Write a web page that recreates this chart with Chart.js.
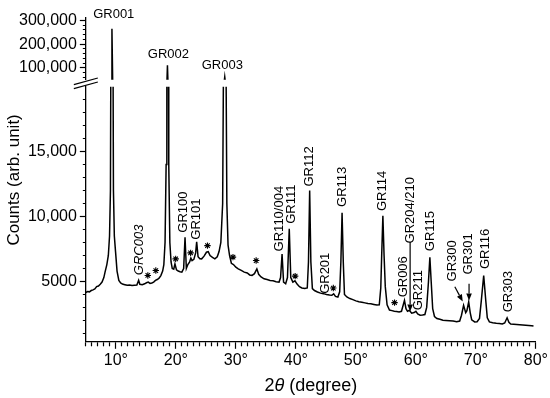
<!DOCTYPE html>
<html>
<head>
<meta charset="utf-8">
<script src="https://cdn.jsdelivr.net/npm/chart.js@4.4.0/dist/chart.umd.min.js"></script>
<style>
  html, body { margin: 0; padding: 0; background: #fff; }
</style>
</head>
<body>
<canvas id="xrdChart" width="550" height="398"></canvas>
<script>
// XRD pattern (2theta in degrees, counts)
const twoTheta = [
  5.0,5.3,5.6,5.9,6.2,6.5,6.8,7.1,7.4,7.7,
  8.0,8.2,8.5,8.75,8.95,9.1,9.22,9.35,9.48,9.6,
  9.75,9.95,10.2,10.5,10.8,11.1,11.5,11.9,12.3,12.7,
  13.1,13.5,13.8,14.0,14.4,14.8,15.1,15.4,15.7,16.0,
  16.3,16.6,16.9,17.2,17.5,17.8,18.0,18.2,18.38,18.5,
  18.6,18.7,18.82,19.0,19.2,19.4,19.65,19.85,20.1,20.4,
  20.7,21.0,21.3,21.53,21.75,22.0,22.3,22.5,22.7,23.0,
  23.3,23.47,23.7,24.0,24.3,24.7,25.1,25.4,25.7,26.1,
  26.5,26.9,27.2,27.5,27.8,27.98,28.15,28.32,28.5,28.7,
  28.95,29.25,29.6,30.0,30.4,30.9,31.4,31.9,32.3,32.7,
  33.1,33.5,33.8,34.2,34.7,35.2,35.7,36.2,36.7,37.2,
  37.45,37.7,37.95,38.3,38.6,38.9,39.15,39.5,39.85,40.2,
  40.6,41.0,41.5,41.9,42.1,42.3,42.5,42.75,43.1,43.6,
  44.1,44.6,45.1,45.6,46.0,46.3,46.6,47.0,47.3,47.5,
  47.7,47.9,48.1,48.5,49.0,49.5,50.0,50.5,51.0,51.5,
  52.0,52.5,53.0,53.5,53.9,54.15,54.3,54.5,54.7,54.9,
  55.2,55.6,56.0,56.4,56.8,57.2,57.6,57.9,58.1,58.35,
  58.6,58.9,59.3,59.7,60.0,60.3,60.7,61.1,61.5,61.8,
  62.1,62.33,62.55,62.8,63.1,63.5,64.0,64.5,65.0,65.6,
  66.2,66.8,67.3,67.6,67.95,68.3,68.5,68.8,69.05,69.3,
  69.8,70.2,70.6,70.9,71.3,71.65,71.9,72.25,72.8,73.4,
  73.9,74.4,74.8,75.2,75.5,75.8,76.3,76.8,77.3,77.8,
  78.3,78.8,79.3,79.6
];
const counts = [
  4150,4230,4200,4300,4350,4420,4600,4650,4780,4950,
  5300,5720,6300,7000,8500,12000,30000,265000,30000,12000,
  8500,7300,5800,5080,4880,4800,4750,4700,4720,4680,
  4700,4720,5080,4780,4750,4820,4900,4950,4850,4880,
  4950,5080,5150,5250,5450,5800,6300,8000,14000,30000,
  111000,30000,14000,8000,6500,6000,5950,6350,5900,5800,
  5750,5720,6000,8400,6000,6300,6500,6800,6600,6700,
  7200,8060,6900,6750,6740,6950,7250,7300,7000,6850,
  6740,6900,7300,8000,11000,25000,62000,25000,11000,7800,
  7000,6400,6300,6100,5970,5850,5720,5650,5500,5470,
  5600,5970,5550,5350,5200,5150,5080,5050,4980,4950,
  5300,7120,4950,4820,5300,9050,5300,4950,5050,4800,
  4600,4500,4450,4500,6500,12000,6500,4450,4300,4190,
  4100,4060,4000,3950,3930,4050,3850,3800,4200,6500,
  10300,6500,4000,3800,3680,3600,3500,3440,3400,3350,
  3300,3280,3230,3180,3200,4500,7000,10060,7000,4600,
  3200,2800,2750,2700,2680,2650,2700,3200,3540,2900,
  2700,2780,2550,2600,2700,2500,2400,2420,2450,3000,
  5000,6870,5000,2900,2300,2140,2080,2010,2000,1980,
  1950,1900,1950,2400,3160,2600,2750,3420,2600,2050,
  1880,1900,2150,3500,5460,3500,2200,1880,1820,1780,
  1760,1720,1800,2200,1850,1720,1700,1680,1660,1640,
  1620,1600,1580,1560
];

// impurity peaks marked with *
const starTheta  = [15.33, 16.66, 19.97, 22.46, 25.27, 29.52, 33.38, 39.88, 46.24, 56.44];
const starCounts = [5460, 5840, 6740, 7200, 7760, 6870, 6610, 5410, 4490, 3370];

// tick labels
const xTickLabels = [10, 20, 30, 40, 50, 60, 70, 80];
const lowTickLabels = [5000, 10000, 15000];
const highTickLabels = [100000, 200000, 300000];

// peak names (rotated ones sit in the lower panel, the first three above the break)
const peakLabels = ['GRC003','GR100','GR101','GR110/004','GR111','GR112','GR201','GR113','GR114',
                    'GR204/210','GR006','GR211','GR115','GR300','GR301','GR116','GR303'];
const labelTheta = [13.92, 21.24, 23.44, 37.19, 39.18, 42.24, 44.97, 47.73, 54.35,
                    59.04, 57.88, 60.36, 62.43, 66.16, 68.73, 71.51, 75.35];
const labelCounts = [7430, 10340, 9800, 9840, 10950, 13860, 5630, 12290, 11970,
                     10490, 5360, 4330, 8880, 6590, 7120, 7500, 4210];
const topLabels = ['GR001', 'GR002', 'GR003'];
const topTheta = [9.65, 18.76, 27.75];
const topCounts = [324000, 155900, 109700];

// arrows (GR204/210, GR300, GR301)
const arrowFromTheta = [59.04, 66.49, 68.86];
const arrowFromCounts = [8040, 4590, 4820];
const arrowToTheta = [59.04, 67.81, 68.86];
const arrowToCounts = [2680, 3450, 3540];

const FONT = '"Liberation Sans", Arial, sans-serif';
const fmt = v => v >= 10000 ? v.toLocaleString('en-US') : String(v);

const range = (a, b, step) => {
  const out = [];
  for (let v = a; v <= b; v += step) out.push(v);
  return out;
};

const pattern = twoTheta.map((t, i) => ({ x: t, y: counts[i] }));
const stars = starTheta.map((t, i) => ({ x: t, y: starCounts[i] }));

const decorations = {
  id: 'decorations',
  afterDatasetsDraw(chart) {
    const { ctx, scales } = chart;
    const xs = scales.x, lo = scales.y, hi = scales.y2;
    ctx.save();
    ctx.fillStyle = '#000';
    ctx.strokeStyle = '#000';
    ctx.textAlign = 'center';
    ctx.textBaseline = 'middle';

    peakLabels.forEach((name, i) => {
      ctx.save();
      ctx.translate(xs.getPixelForValue(labelTheta[i]), lo.getPixelForValue(labelCounts[i]));
      ctx.rotate(-Math.PI / 2);
      ctx.font = (name === 'GRC003' ? 'italic ' : '') + '13px ' + FONT;
      ctx.fillText(name, 0, 0);
      ctx.restore();
    });

    ctx.font = '13px ' + FONT;
    topLabels.forEach((name, i) => {
      ctx.fillText(name, xs.getPixelForValue(topTheta[i]), hi.getPixelForValue(topCounts[i]));
    });

    ctx.lineWidth = 1.2;
    arrowFromTheta.forEach((t, i) => {
      const x1 = xs.getPixelForValue(t), y1 = lo.getPixelForValue(arrowFromCounts[i]);
      const x2 = xs.getPixelForValue(arrowToTheta[i]), y2 = lo.getPixelForValue(arrowToCounts[i]);
      const a = Math.atan2(y2 - y1, x2 - x1);
      const hl = 7, hw = 2.8;
      ctx.beginPath();
      ctx.moveTo(x1, y1);
      ctx.lineTo(x2 - Math.cos(a) * hl, y2 - Math.sin(a) * hl);
      ctx.stroke();
      ctx.beginPath();
      ctx.moveTo(x2, y2);
      ctx.lineTo(x2 - Math.cos(a) * hl - Math.sin(a) * hw, y2 - Math.sin(a) * hl + Math.cos(a) * hw);
      ctx.lineTo(x2 - Math.cos(a) * hl + Math.sin(a) * hw, y2 - Math.sin(a) * hl - Math.cos(a) * hw);
      ctx.closePath();
      ctx.fill();
    });
    ctx.restore();
  },
  afterDraw(chart) {
    const { ctx, chartArea, scales } = chart;
    const lo = scales.y, hi = scales.y2;
    ctx.save();
    ctx.strokeStyle = '#000';
    ctx.fillStyle = '#000';

    // axis break marks
    const ax = lo.right;
    const mid = (hi.bottom + lo.top) / 2;
    ctx.lineWidth = 1.2;
    [-2, 2].forEach(d => {
      ctx.beginPath();
      ctx.moveTo(ax - 12, mid + d + 3.3);
      ctx.lineTo(ax + 12, mid + d - 3.3);
      ctx.stroke();
    });

    // y title
    ctx.save();
    ctx.translate(14, (chartArea.top + chartArea.bottom) / 2);
    ctx.rotate(-Math.PI / 2);
    ctx.font = '17px ' + FONT;
    ctx.textAlign = 'center';
    ctx.textBaseline = 'middle';
    ctx.fillText('Counts (arb. unit)', 0, 0);
    ctx.restore();

    // x title: 2θ (degree), theta in italics
    const parts = [['2', ''], ['θ', 'italic '], [' (degree)', '']];
    let w = 0;
    parts.forEach(p => { ctx.font = p[1] + '18px ' + FONT; w += ctx.measureText(p[0]).width; });
    let cx = (chartArea.left + chartArea.right) / 2 - w / 2;
    ctx.textAlign = 'left';
    ctx.textBaseline = 'middle';
    parts.forEach(p => {
      ctx.font = p[1] + '18px ' + FONT;
      ctx.fillText(p[0], cx, 386);
      cx += ctx.measureText(p[0]).width;
    });
    ctx.restore();
  }
};

const tickFont = { family: FONT, size: 16 };

new Chart(document.getElementById('xrdChart'), {
  type: 'scatter',
  data: {
    datasets: [
      { data: pattern, yAxisID: 'y', showLine: true, borderColor: '#000', borderWidth: 1.5, pointRadius: 0, tension: 0 },
      { data: pattern, yAxisID: 'y2', showLine: true, borderColor: '#000', borderWidth: 1.5, pointRadius: 0, tension: 0 },
      { data: stars, yAxisID: 'y', pointStyle: 'star', pointRadius: 3.2, borderColor: '#000', borderWidth: 1.1, backgroundColor: '#000' }
    ]
  },
  options: {
    responsive: false,
    animation: false,
    events: [],
    devicePixelRatio: 1,
    layout: { padding: { left: 16, right: 13, top: 18, bottom: 26 } },
    plugins: { legend: { display: false }, tooltip: { enabled: false } },
    scales: {
      x: {
        type: 'linear', position: 'bottom', min: 5, max: 80,
        afterBuildTicks: s => { s.ticks = range(5, 80, 1).map(v => ({ value: v })); },
        ticks: {
          autoSkip: false, maxRotation: 0, color: '#000', font: tickFont, padding: 2,
          callback: v => xTickLabels.includes(v) ? v + '°' : ''
        },
        grid: {
          drawOnChartArea: false, tickLength: 7, tickColor: '#000', tickWidth: 1.2,
          tickBorderDash: c => xTickLabels.includes(c.tick && c.tick.value) ? [] : [4, 20]
        },
        border: { color: '#000', width: 1.3 }
      },
      y: {
        type: 'linear', position: 'left', stack: 'counts', stackWeight: 256,
        min: 350, max: 20000,
        afterBuildTicks: s => { s.ticks = range(1000, 19000, 1000).map(v => ({ value: v })); },
        ticks: {
          autoSkip: false, color: '#000', font: tickFont, padding: 3,
          callback: v => lowTickLabels.includes(v) ? fmt(v) : ''
        },
        grid: {
          drawOnChartArea: false, tickLength: 6, tickColor: '#000', tickWidth: 1.2,
          tickBorderDash: c => lowTickLabels.includes(c.tick && c.tick.value) ? [] : [0, 3, 3, 20]
        },
        border: { color: '#000', width: 1.3 }
      },
      yGap: {
        type: 'linear', position: 'left', stack: 'counts', stackWeight: 7,
        grid: { display: false }, ticks: { display: false }, border: { display: false }
      },
      y2: {
        type: 'linear', position: 'left', stack: 'counts', stackWeight: 62,
        min: 50000, max: 310000,
        afterBuildTicks: s => { s.ticks = range(60000, 300000, 20000).map(v => ({ value: v })); },
        ticks: {
          autoSkip: false, color: '#000', font: tickFont, padding: 3,
          callback: v => highTickLabels.includes(v) ? fmt(v) : ''
        },
        grid: {
          drawOnChartArea: false, tickLength: 6, tickColor: '#000', tickWidth: 1.2,
          tickBorderDash: c => highTickLabels.includes(c.tick && c.tick.value) ? [] : [0, 3, 3, 20]
        },
        border: { color: '#000', width: 1.3 }
      }
    }
  },
  plugins: [decorations]
});
</script>
</body>
</html>
